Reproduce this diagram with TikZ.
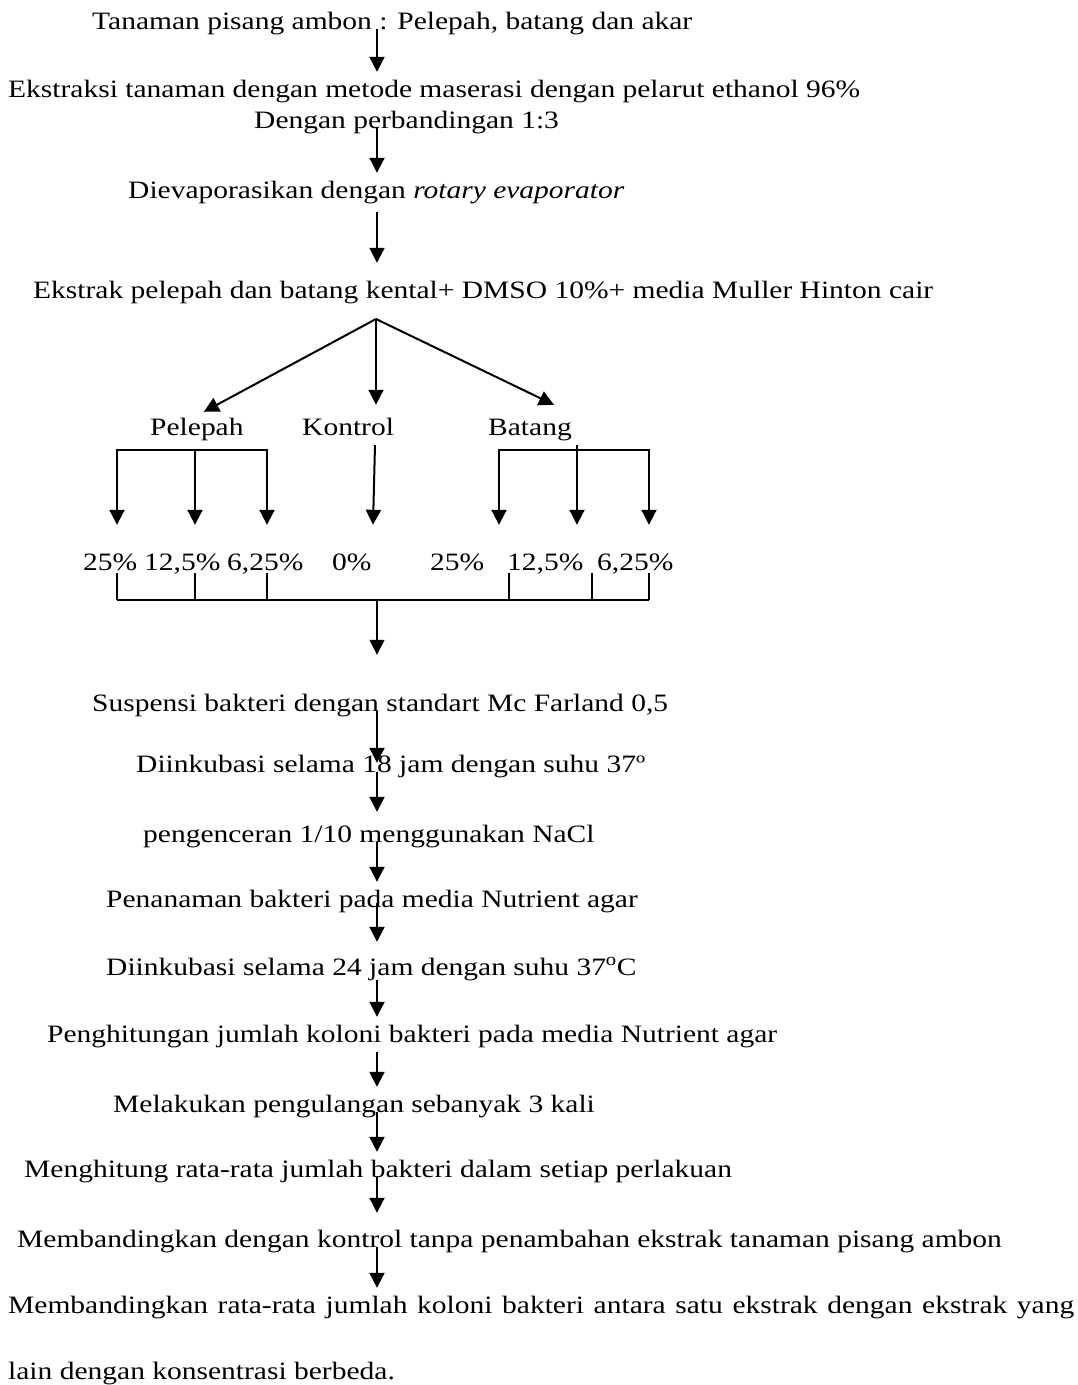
\documentclass[tikz,border=0pt]{standalone}
\usepackage{fontspec}
\setmainfont{Liberation Serif}[FakeStretch=1.18]
\usetikzlibrary{arrows.meta}

\begin{document}
\begin{tikzpicture}[x=1pt,y=-1pt,font=\fontsize{25}{30}\selectfont,
    txt/.style={inner sep=0pt,anchor=base west,text height=25pt,text depth=6pt},
    pct/.style={txt,text height=45pt,text depth=3pt},
    arr/.style={line width=2pt,-{Triangle[length=15pt,width=15pt]}},
    arrs/.style={line width=2pt,{Triangle[length=15pt,width=15pt]}-{Triangle[length=15pt,width=15pt]}},
    brk/.style={line width=1.2pt}]
  \useasboundingbox (0,0) rectangle (1078,1385);
  \node[txt] (tanam) at (92,29) {Tanaman pisang ambon : Pelepah, batang dan akar};
  \node[txt] (ekstr) at (8,97) {Ekstraksi tanaman dengan metode maserasi dengan pelarut ethanol 96\%};
  \node[txt] (banding) at (254,128) {Dengan perbandingan 1:3};
  \node[txt] (evap) at (128,198) {Dievaporasikan dengan \textit{rotary evaporator}};
  \node[txt] (kental) at (33,298) {Ekstrak pelepah dan batang kental+ DMSO 10\%+ media Muller Hinton cair};
  \node[txt] (pelepah) at (150,435) {Pelepah};
  \node[txt] (kontrol) at (302,435) {Kontrol};
  \node[txt] (batang) at (488,435) {Batang};
  \node[pct] (p25) at (83,570) {25\%};
  \node[pct] (p125) at (144,570) {12,5\%};
  \node[pct] (p625) at (227,570) {6,25\%};
  \node[pct] (k0) at (332,570) {0\%};
  \node[pct] (b25) at (430,570) {25\%};
  \node[pct] (b125) at (507,570) {12,5\%};
  \node[pct] (b625) at (597,570) {6,25\%};
  \node[txt] (susp) at (92,711) {Suspensi bakteri dengan standart Mc Farland 0,5};
  \node[txt] (inkA) at (136,772) {Diinkubasi selama 18 jam dengan suhu 37º};
  \node[txt] (encer) at (143,842) {pengenceran 1/10 menggunakan NaCl};
  \node[txt] (tanamb) at (106,907) {Penanaman bakteri pada media Nutrient agar};
  \node[txt] (inkB) at (106,975) {Diinkubasi selama 24 jam dengan suhu 37\textsuperscript{o}C};
  \node[txt] (hitung) at (47,1042) {Penghitungan jumlah koloni bakteri pada media Nutrient agar};
  \node[txt] (ulang) at (113,1112) {Melakukan pengulangan sebanyak 3 kali};
  \node[txt] (rata) at (24,1177) {Menghitung rata-rata jumlah bakteri dalam setiap perlakuan};
  \node[txt] (bandA) at (17,1247) {Membandingkan dengan kontrol tanpa penambahan ekstrak tanaman pisang ambon};
  \node[txt] (bandB) at (8,1313) {\makebox[1066pt][s]{Membandingkan rata-rata jumlah koloni bakteri antara satu ekstrak dengan ekstrak yang}};
  \node[txt] (lain) at (8,1379) {lain dengan konsentrasi berbeda.};

  \coordinate (sp) at (377,0);
  \coordinate (fork) at (376,319);
  \coordinate (kT) at (375,445);
  \coordinate (pL) at (117,450); \coordinate (pM) at (195,450); \coordinate (pR) at (267,450);
  \coordinate (bL) at (499,450); \coordinate (bM) at (577,445); \coordinate (bR) at (649,450);
  \coordinate (qA) at (117,600); \coordinate (qB) at (195,600); \coordinate (qC) at (267,600);
  \coordinate (qD) at (509,600); \coordinate (qE) at (592,600); \coordinate (qF) at (649,600);
  \coordinate (join) at (377,600);

  \draw[arr] (tanam.base -| sp) -- (ekstr.north -| sp);
  \draw[arr] (banding.base -| sp) -- (evap.north -| sp);
  \draw[arr,shorten <=14pt,shorten >=10pt] (evap.base -| sp) -- (kental.north -| sp);

  \draw[arr] (fork) -- ([xshift=7pt,yshift=-2pt]pelepah.north);
  \draw[arr,shorten >=5pt] (fork) -- (fork |- kontrol.north);
  \draw[arr] (fork) -- ([xshift=24pt,yshift=5pt]batang.north);

  \draw[arrs] (pL |- p25.north) -- (pL) -- (pR) -- (pR |- p625.north);
  \draw[arr] (pM) -- (pM |- p125.north);
  \draw[arrs] (bL |- b25.north) -- (bL) -- (bR) -- (bR |- b625.north);
  \draw[arr] (bM) -- (bM |- b125.north);
  \draw[arr] (kT) -- ([xshift=-2pt]kT |- k0.north);

  \foreach \q in {qA,qB,qC,qD,qE,qF}
    \draw[brk] (\q |- p25.south) -- (\q);
  \draw[brk] (qA) -- (qF);
  \draw[brk,-{Triangle[length=15pt,width=15pt]},shorten >=31pt] (join) -- (join |- susp.north);

  \draw[arr,shorten >=-16pt] (susp.base -| sp) -- (inkA.north -| sp);
  \draw[arr,shorten >=5pt] (inkA.base -| sp) -- (encer.north -| sp);
  \draw[arr] (encer.base -| sp) -- (tanamb.north -| sp);
  \draw[arr,shorten <=-4pt,shorten >=8pt] (tanamb.base -| sp) -- (inkB.north -| sp);
  \draw[arr,shorten <=5pt] (inkB.base -| sp) -- (hitung.north -| sp);
  \draw[arr,shorten <=10pt] (hitung.base -| sp) -- (ulang.north -| sp);
  \draw[arr] (ulang.base -| sp) -- (rata.north -| sp);
  \draw[arr,shorten >=9pt] (rata.base -| sp) -- (bandA.north -| sp);
  \draw[arr] (bandA.base -| sp) -- (bandB.north -| sp);
\end{tikzpicture}
\end{document}
